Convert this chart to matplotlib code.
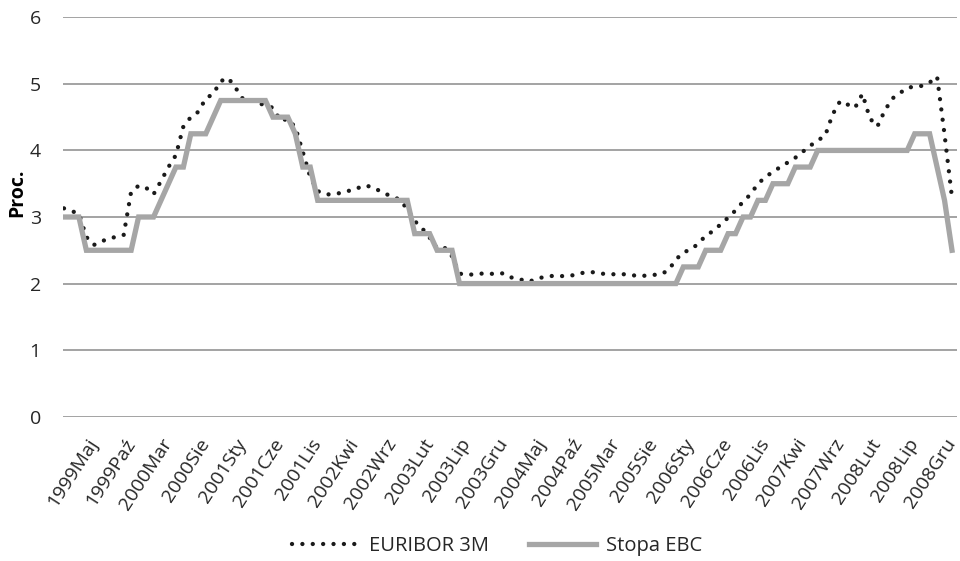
import matplotlib
matplotlib.use("Agg")
import matplotlib.pyplot as plt

plt.rcParams["font.family"] = ["Open Sans", "DejaVu Sans"]

years = list(range(1999, 2009))
months = ["Sty", "Lut", "Mar", "Kwi", "Maj", "Cze", "Lip", "Sie", "Wrz", "Paź", "Lis", "Gru"]
periods = [f"{y}{m}" for y in years for m in months]

euribor_3m = [
    3.13, 3.09, 3.05, 2.70, 2.58, 2.63, 2.68, 2.70, 2.73, 3.38, 3.47, 3.44,
    3.34, 3.54, 3.75, 3.93, 4.36, 4.50, 4.58, 4.78, 4.85, 5.04, 5.09, 4.94,
    4.77, 4.76, 4.71, 4.68, 4.64, 4.45, 4.47, 4.35, 3.98, 3.60, 3.39, 3.34,
    3.34, 3.36, 3.39, 3.41, 3.47, 3.46, 3.41, 3.35, 3.31, 3.26, 3.12, 2.94,
    2.83, 2.69, 2.53, 2.54, 2.41, 2.15, 2.13, 2.14, 2.15, 2.14, 2.16, 2.15,
    2.09, 2.07, 2.03, 2.05, 2.09, 2.11, 2.12, 2.11, 2.12, 2.15, 2.17, 2.17,
    2.15, 2.14, 2.14, 2.14, 2.13, 2.11, 2.12, 2.13, 2.14, 2.20, 2.36, 2.47,
    2.51, 2.60, 2.72, 2.79, 2.89, 2.99, 3.10, 3.23, 3.34, 3.50, 3.60, 3.68,
    3.75, 3.82, 3.89, 3.98, 4.07, 4.15, 4.22, 4.54, 4.74, 4.69, 4.64, 4.85,
    4.48, 4.36, 4.60, 4.78, 4.86, 4.94, 4.96, 4.97, 5.02, 5.11, 4.24, 3.29,
]

stopa_ebc = [
    3.00, 3.00, 3.00, 2.50, 2.50, 2.50, 2.50, 2.50, 2.50, 2.50, 3.00, 3.00,
    3.00, 3.25, 3.50, 3.75, 3.75, 4.25, 4.25, 4.25, 4.50, 4.75, 4.75, 4.75,
    4.75, 4.75, 4.75, 4.75, 4.50, 4.50, 4.50, 4.25, 3.75, 3.75, 3.25, 3.25,
    3.25, 3.25, 3.25, 3.25, 3.25, 3.25, 3.25, 3.25, 3.25, 3.25, 3.25, 2.75,
    2.75, 2.75, 2.50, 2.50, 2.50, 2.00, 2.00, 2.00, 2.00, 2.00, 2.00, 2.00,
    2.00, 2.00, 2.00, 2.00, 2.00, 2.00, 2.00, 2.00, 2.00, 2.00, 2.00, 2.00,
    2.00, 2.00, 2.00, 2.00, 2.00, 2.00, 2.00, 2.00, 2.00, 2.00, 2.00, 2.25,
    2.25, 2.25, 2.50, 2.50, 2.50, 2.75, 2.75, 3.00, 3.00, 3.25, 3.25, 3.50,
    3.50, 3.50, 3.75, 3.75, 3.75, 4.00, 4.00, 4.00, 4.00, 4.00, 4.00, 4.00,
    4.00, 4.00, 4.00, 4.00, 4.00, 4.00, 4.25, 4.25, 4.25, 3.75, 3.25, 2.50,
]

x = list(range(len(periods)))
text_color = "#262626"

fig = plt.figure(figsize=(9.6, 5.61), dpi=100)
ax = fig.add_axes([63 / 960, 1 - 416.7 / 561, 894 / 960, 399.4 / 561])

ax.plot(x, euribor_3m, color="#1a1a1a", lw=3.1, linestyle=(0, (0.01, 2.4)),
        dash_capstyle="round", label="EURIBOR 3M", zorder=3)
ax.plot(x, stopa_ebc, color="#a6a6a6", lw=3.8, solid_joinstyle="miter",
        label="Stopa EBC", zorder=4)

ax.set_ylim(0, 6)
ax.set_xlim(-0.13, 119.67)
ax.set_yticks(range(0, 7))
ax.yaxis.grid(True, color="#8a8a8a", lw=1.1)
ax.set_axisbelow(True)
for s in ax.spines.values():
    s.set_visible(False)

# month labels every 5 periods, slanted
tick_idx = x[4::5]
ax.set_xticks(tick_idx)
ax.set_xticklabels([periods[i] for i in tick_idx], rotation=57, ha="right",
                   va="center", rotation_mode="anchor")
ax.tick_params(axis="x", length=0, pad=17, labelsize=14, labelcolor=text_color)
ax.tick_params(axis="y", length=0, pad=16, labelsize=14, labelcolor=text_color)

fig.text(17 / 960, 1 - 193 / 561, "Proc.", rotation=90, ha="center", va="center",
         fontsize=14, fontweight="bold", color="#000000")

fig.legend(loc="center", bbox_to_anchor=(0.518, 1 - 546 / 561), ncol=2,
           frameon=False, fontsize=14.5, handlelength=3.3, handletextpad=0.5,
           columnspacing=2.0, labelcolor=text_color)

fig.savefig("out.png", dpi=100)
